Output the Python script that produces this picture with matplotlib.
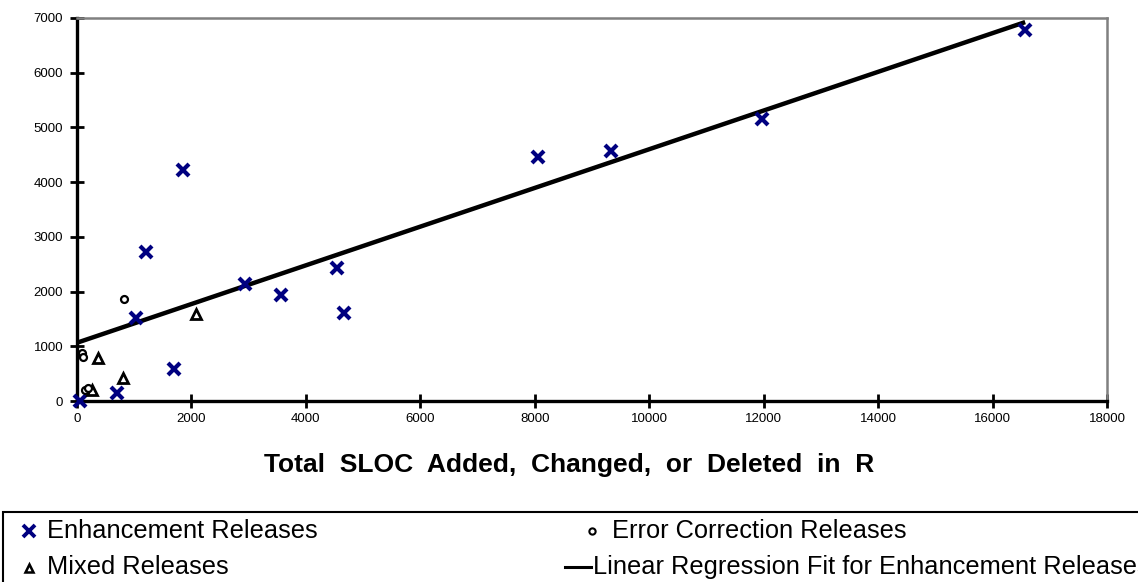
import matplotlib
matplotlib.use("Agg")
import matplotlib.pyplot as plt
from matplotlib.lines import Line2D
from matplotlib.patches import Rectangle

plt.rcParams['font.family'] = ['Liberation Sans', 'DejaVu Sans']

# enhancement releases
enh_x = [50, 700, 1700, 1030, 1210, 1850, 2940, 3570, 4540, 4670, 8060, 9330, 11970, 16570]
enh_y = [0, 150, 590, 1520, 2720, 4220, 2140, 1940, 2430, 1610, 4460, 4570, 5160, 6780]

# mixed releases
mix_x = [2080, 360, 800, 260]
mix_y = [1590, 780, 420, 210]

# error correction releases
err_x = [820, 90, 110, 140, 200]
err_y = [1870, 880, 800, 210, 230]

# regression fit for enhancement releases
fit_x = [0, 16570]
fit_y = [1065, 6925]

W, H = 1138, 582
fig = plt.figure(figsize=(W / 100, H / 100), dpi=100)
ax = fig.add_axes([77 / W, 1 - 401 / H, (1107 - 77) / W, (401 - 18) / H])

ax.plot(fit_x, fit_y, color='black', lw=3.2, zorder=2, solid_capstyle='butt')
ax.plot(enh_x, enh_y, ls='none', marker='x', ms=9, mew=3, color='#000080', zorder=3, clip_on=False)
ax.plot(mix_x, mix_y, ls='none', marker='^', ms=7, mew=2, mfc='white', mec='black', zorder=3, clip_on=False)
ax.plot(err_x, err_y, ls='none', marker='o', ms=5, mew=1.6, mfc='white', mec='black', zorder=3, clip_on=False)

ax.set_xlim(0, 18000)
ax.set_ylim(0, 7000)
ax.set_xticks(range(0, 18001, 2000))
ax.set_yticks(range(0, 7001, 1000))

for s in ['left', 'bottom']:
    ax.spines[s].set_linewidth(2.4)
    ax.spines[s].set_color('black')
for s in ['top', 'right']:
    ax.spines[s].set_linewidth(1.8)
    ax.spines[s].set_color('#808080')
ax.spines['left'].set_zorder(1)
ax.tick_params(direction='inout', length=10, width=2, labelsize=9.5, colors='black')
ax.tick_params(axis='y', pad=5)
ax.tick_params(axis='x', pad=4)

# label sits centred on the figure, not on the axes
ax.set_xlabel('Total  SLOC  Added,  Changed,  or  Deleted  in  R',
              fontsize=19, fontweight='bold')
ax.xaxis.set_label_coords((569 - 77) / (1107 - 77), -(465 - 401) / (401 - 18))
ax.xaxis.label.set_va('center')

# legend box drawn in figure pixels
def fx(px):
    return px / W

def fy(py):
    return 1 - py / H

fig.add_artist(Rectangle((fx(3), fy(600)), fx(1150), 88 / H, transform=fig.transFigure,
                         fill=False, ec='black', lw=1.5))
fig.add_artist(Line2D([fx(29)], [fy(531)], transform=fig.transFigure, ls='none',
                      marker='x', ms=8, mew=2.8, color='#000080'))
fig.add_artist(Line2D([fx(29)], [fy(568)], transform=fig.transFigure, ls='none',
                      marker='^', ms=6, mew=1.8, mfc='white', mec='black'))
fig.add_artist(Line2D([fx(592)], [fy(531)], transform=fig.transFigure, ls='none',
                      marker='o', ms=4.5, mew=1.5, mfc='white', mec='black'))
fig.add_artist(Line2D([fx(565), fx(591)], [fy(567), fy(567)], transform=fig.transFigure,
                      color='black', lw=2.2))
leg_fs = 18.3
fig.text(fx(47), fy(531), 'Enhancement Releases', fontsize=leg_fs, va='center')
fig.text(fx(47), fy(567), 'Mixed Releases', fontsize=leg_fs, va='center')
fig.text(fx(612), fy(531), 'Error Correction Releases', fontsize=leg_fs, va='center')
fig.text(fx(593), fy(567), 'Linear Regression Fit for Enhancement Releases', fontsize=leg_fs, va='center')

fig.savefig('out.png', dpi=100)
